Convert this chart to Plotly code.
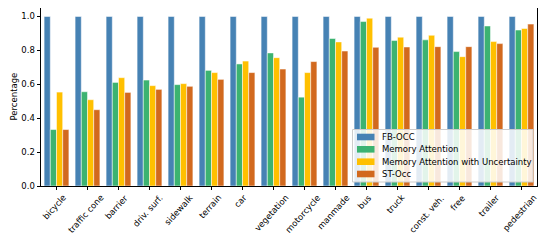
import plotly.graph_objects as go

categories = ["bicycle", "traffic cone", "barrier", "driv. surf.", "sidewalk", "terrain",
              "car", "vegetation", "motorcycle", "manmade", "bus", "truck",
              "const. veh.", "free", "trailer", "pedestrian"]
fb_occ = [1.0] * 16
memory_attention = [0.333, 0.556, 0.611, 0.625, 0.598, 0.682, 0.720, 0.785, 0.524, 0.870,
                    0.970, 0.858, 0.862, 0.793, 0.944, 0.920]
memory_attention_unc = [0.554, 0.509, 0.639, 0.592, 0.604, 0.669, 0.737, 0.757, 0.669, 0.850,
                        0.990, 0.878, 0.889, 0.763, 0.852, 0.929]
st_occ = [0.333, 0.450, 0.552, 0.570, 0.588, 0.629, 0.669, 0.690, 0.734, 0.796,
          0.818, 0.820, 0.822, 0.822, 0.840, 0.955]

series_names = ["FB-OCC", "Memory Attention", "Memory Attention with Uncertainty", "ST-Occ"]
series_values = [fb_occ, memory_attention, memory_attention_unc, st_occ]
series_colors = ["#4682B4", "#3CB371", "#FFC000", "#D2691E"]

# page body has an 8px default margin; size the figure so the plot lands where the reference has it
OFF = 8
W, H = 548 - OFF, 244 - OFF
PL, PR, PT, PB = 41, 537, 8, 186          # plot area in window pixels
L, R, T, B = PL - OFF, W + OFF - PR, PT - OFF, H + OFF - PB
pw, ph = PR - PL, PB - PT


def px_x(p):
    return (p - PL) / pw


def px_y(p):
    return (PB - p) / ph


x_idx = list(range(len(categories)))
fig = go.Figure()
for name, vals, col in zip(series_names, series_values, series_colors):
    fig.add_trace(go.Bar(x=x_idx, y=vals, name=name, showlegend=False,
                         marker=dict(color=col, line=dict(color="white", width=0.5))))

font = "DejaVu Sans, Arial, sans-serif"
fs = 8.5

# matplotlib-style legend drawn as shapes + text
shapes = [dict(type="rect", xref="paper", yref="paper",
               x0=px_x(352.5), x1=px_x(533), y0=px_y(182), y1=px_y(129.5),
               fillcolor="rgba(255,255,255,0.85)", line=dict(color="#cccccc", width=1),
               layer="above")]
annotations = []
row_y = [137, 149.3, 161.7, 174]
for name, col, ry in zip(series_names, series_colors, row_y):
    shapes.append(dict(type="rect", xref="paper", yref="paper",
                       x0=px_x(357), x1=px_x(374.5), y0=px_y(ry + 3.3), y1=px_y(ry - 3.3),
                       fillcolor=col, line=dict(width=0), layer="above"))
    annotations.append(dict(text=name, xref="paper", yref="paper", x=px_x(380), y=px_y(ry),
                            xanchor="left", yanchor="middle", showarrow=False,
                            font=dict(family=font, size=fs, color="black")))

# rotated category labels, centred under each tick like matplotlib's rotated tick labels
for i, cat in zip(x_idx, categories):
    annotations.append(dict(text=cat, xref="x", yref="paper", x=i, y=px_y(191.5),
                            xanchor="center", yanchor="top", textangle=-48, showarrow=False,
                            borderpad=0, xshift=-2,
                            font=dict(family=font, size=fs, color="black")))

annotations.append(dict(text="Percentage", xref="paper", yref="paper", x=px_x(13.5), y=0.5,
                        xanchor="center", yanchor="middle", textangle=-90, showarrow=False,
                        font=dict(family=font, size=fs, color="black")))

fig.update_layout(
    width=W, height=H,
    margin=dict(l=L, r=R, t=T, b=B, pad=0),
    barmode="group", bargap=0.2, bargroupgap=0,
    plot_bgcolor="white", paper_bgcolor="white",
    font=dict(family=font, size=fs, color="black"),
    showlegend=False,
    shapes=shapes, annotations=annotations,
)
fig.update_xaxes(range=[-0.5, 15.5], tickmode="array", tickvals=x_idx, showticklabels=False,
                 ticks="outside", ticklen=3.5, tickwidth=0.8, tickcolor="black",
                 showline=True, linecolor="black", linewidth=0.8, mirror=True,
                 showgrid=False, zeroline=False, automargin=False)
fig.update_yaxes(range=[0, 1.05], tickmode="array", tickvals=[0, 0.2, 0.4, 0.6, 0.8, 1.0],
                 ticktext=["0.0", "0.2", "0.4", "0.6", "0.8", "1.0"],
                 ticks="outside", ticklen=3.5, tickwidth=0.8, tickcolor="black",
                 showline=True, linecolor="black", linewidth=0.8, mirror=True,
                 showgrid=False, zeroline=False, tickfont=dict(size=fs), automargin=False)
fig.write_html("out.html")
